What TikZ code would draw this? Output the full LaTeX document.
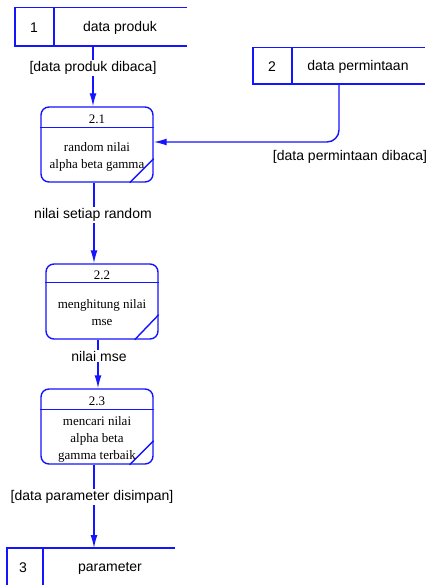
\documentclass[tikz,border=0pt]{standalone}
\usepackage{fontspec}
\setmainfont{Liberation Serif}
\newfontfamily\lsans{Liberation Sans}
\usetikzlibrary{arrows.meta,calc}
\definecolor{dfd}{RGB}{20,20,255}
\tikzset{
  lbl/.style={font=\lsans\fontsize{14}{16}\selectfont, inner sep=1pt, text=black},
  wlbl/.style={lbl, fill=white},
  proc/.style={draw=dfd, line width=1.4pt, rounded corners=8pt, minimum width=112pt, minimum height=75pt, inner sep=0pt},
  ptxt/.style={font=\fontsize{13}{17}\selectfont, align=center, inner sep=0pt, text=black},
  ln/.style={draw=dfd, line width=1.4pt},
  flow/.style={draw=dfd, line width=1.4pt, -{Latex[length=13pt,width=7pt]}},
  sbox/.style={minimum width=#1, minimum height=38pt, inner sep=0pt},
}
\begin{document}
\begin{tikzpicture}[x=1pt,y=-1pt]
\useasboundingbox (0,0) rectangle (428,585);
% data stores
\node[sbox=172pt] (s1) at (101,27) {};
\draw[ln] (s1.north east) -- (s1.north west) -- (s1.south west) -- (s1.south east);
\draw[ln] (s1.north west -| 54,0) -- (s1.south west -| 54,0);
\node[lbl] (s1n) at (34,28) {1};
\node[lbl] (s1t) at (120,28) {data produk};

\node[sbox=172pt, minimum height=36pt] (s2) at (339,66) {};
\draw[ln] (s2.north east) -- (s2.north west) -- (s2.south west) -- (s2.south east);
\draw[ln] (s2.north west -| 292,0) -- (s2.south west -| 292,0);
\node[lbl] (s2n) at (272,67) {2};
\node[lbl] (s2t) at (358,67) {data permintaan};

\coordinate (s3nw) at (7,548);
\coordinate (s3ne) at (175,548);
\coordinate (s3sw) at (7,590);
\draw[ln] (s3ne) -- (s3nw) -- (s3sw);
\draw[ln] (43,548) -- (43,590);
\node[lbl] (s3n) at (23,568) {3};
\node[lbl] (s3t) at (110,568) {parameter};

% processes
\node[proc] (p1) at (97,144.5) {};
\draw[ln] ($(p1.north west)+(0,21)$) -- ($(p1.north east)+(0,21)$);
\draw[ln] ($(p1.south east)+(-24,0)$) -- ($(p1.south east)+(0,-24)$);
\node[ptxt] (p1h) at (97,119) {2.1};
\node[ptxt] (p1t) at (97,156.5) {random nilai\\alpha beta gamma};

\node[proc] (p2) at (102,301.5) {};
\draw[ln] ($(p2.north west)+(0,19)$) -- ($(p2.north east)+(0,19)$);
\draw[ln] ($(p2.south east)+(-24,0)$) -- ($(p2.south east)+(0,-25)$);
\node[ptxt] (p2h) at (102,275) {2.2};
\node[ptxt] (p2t) at (102,312.5) {menghitung nilai\\mse};

\node[proc] (p3) at (97,426.5) {};
\draw[ln] ($(p3.north west)+(0,21)$) -- ($(p3.north east)+(0,21)$);
\draw[ln] ($(p3.south east)+(-24,0)$) -- ($(p3.south east)+(0,-24)$);
\node[ptxt] (p3h) at (97,401) {2.3};
\node[ptxt] (p3t) at (97,439.5) {mencari nilai\\alpha beta\\gamma terbaik};

% flows
\draw[flow] (s1.south -| 93,0) -- (p1.north -| 93,0);
\node[wlbl] (f1) at (93,68) {[data produk dibaca]};

\draw[flow, rounded corners=12pt] (s2.south -| 339,0) -- (339,142) -- (p1.east |- 0,142);
\node[lbl] (f2) at (350,157) {[data permintaan dibaca]};

\draw[flow] (p1.south -| 94,0) -- (p2.north -| 94,0);
\node[wlbl] (f3) at (93,215) {nilai setiap random};

\draw[flow] (p2.south -| 98,0) -- (p3.north -| 98,0);
\node[wlbl] (f4) at (99,356) {nilai mse};

\draw[flow] (p3.south -| 94,0) -- (s3nw -| 94,0);
\node[wlbl] (f5) at (92,497) {[data parameter disimpan]};
\end{tikzpicture}
\end{document}
